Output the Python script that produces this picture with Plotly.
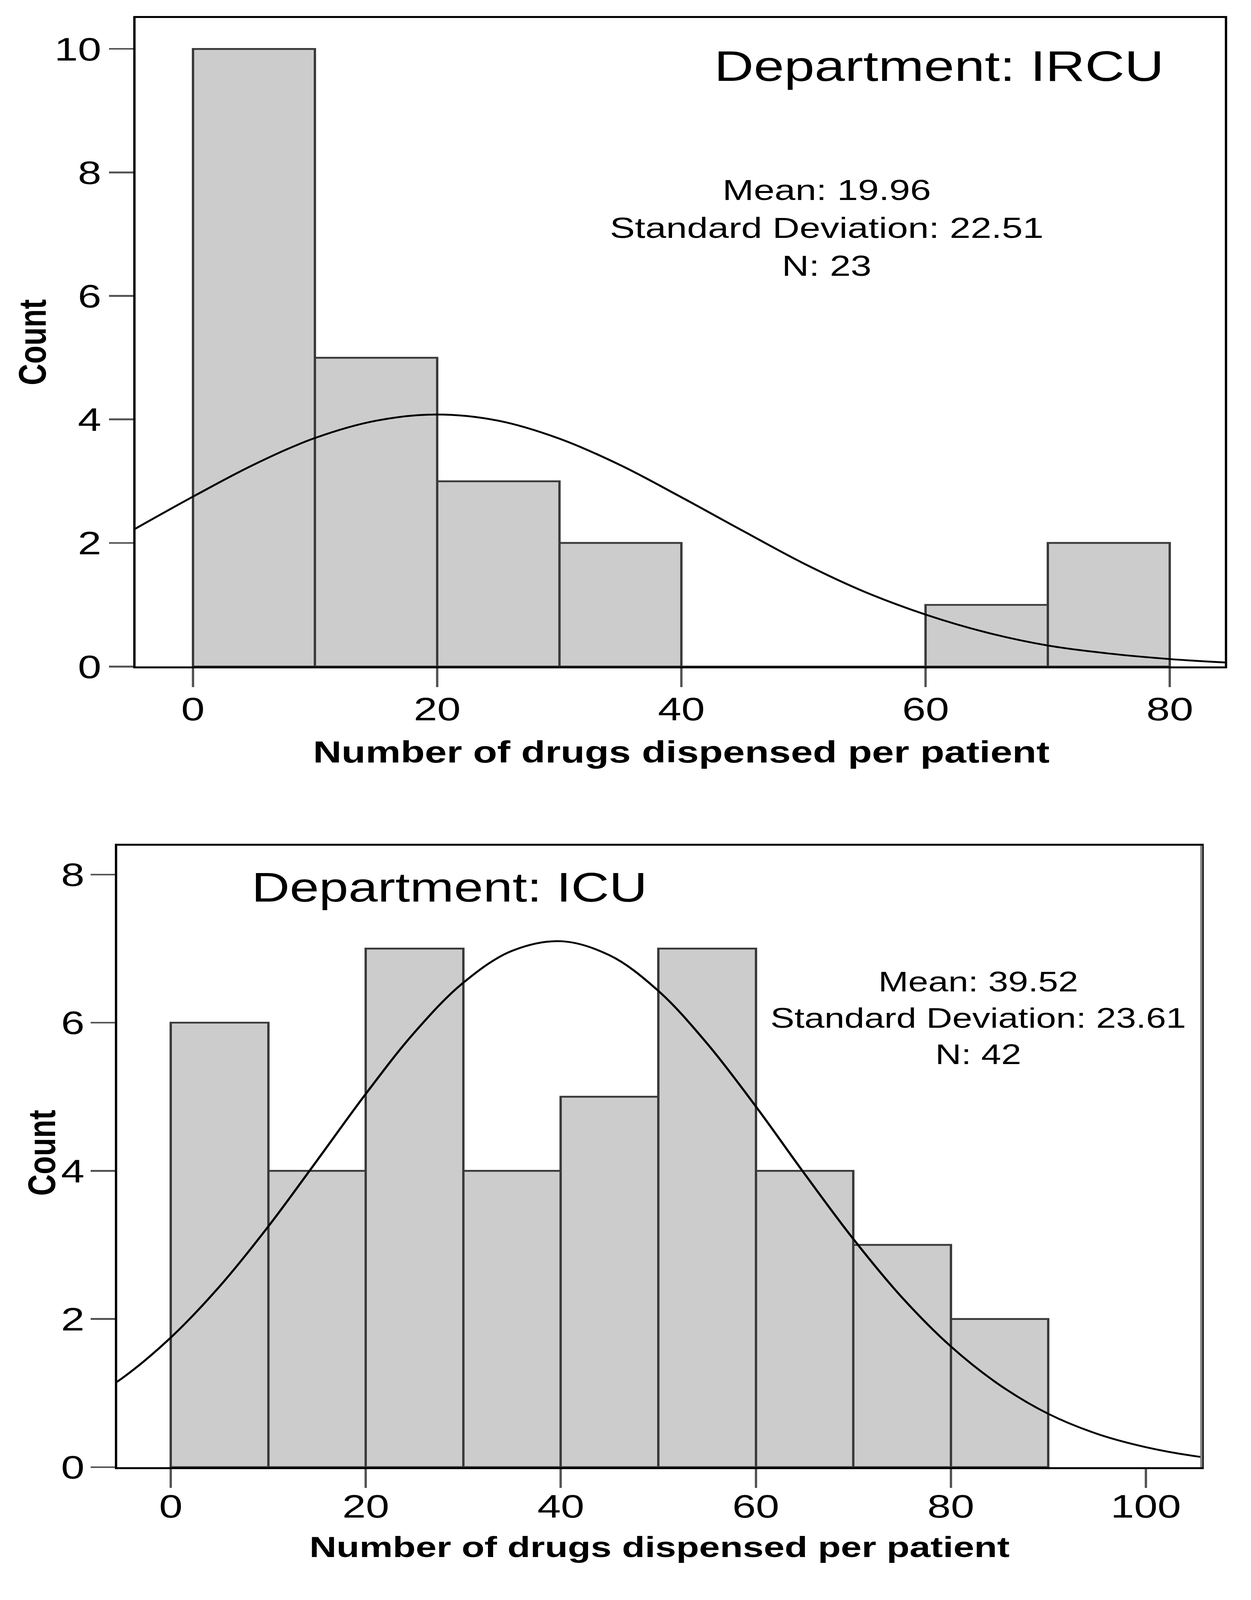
import plotly.graph_objects as go

# ---------------- data ----------------
bin_centers_ircu = [5, 15, 25, 35, 45, 55, 65, 75]
counts_ircu = [10, 5, 3, 2, 0, 0, 1, 2]

bin_centers_icu = [5, 15, 25, 35, 45, 55, 65, 75, 85]
counts_icu = [6, 4, 7, 4, 5, 7, 4, 3, 2]

# normal curve (count scale)
curve_x_ircu = [-5, 0, 5, 10, 15, 20, 25, 30, 35, 40, 45, 50, 55, 60, 65, 70, 75, 80, 85]
curve_y_ircu = [2.20, 2.75, 3.27, 3.70, 3.98, 4.08, 3.98, 3.69, 3.26, 2.74, 2.20, 1.67,
                1.21, 0.84, 0.55, 0.34, 0.21, 0.12, 0.06]

curve_x_icu = [-10, -5, 0, 5, 10, 15, 20, 25, 30, 35, 40, 45, 50, 55, 60, 65, 70, 75, 80,
               85, 90, 95, 100, 105, 110]
curve_y_icu = [0.79, 1.20, 1.75, 2.44, 3.25, 4.14, 5.04, 5.87, 6.54, 6.97, 7.10, 6.91, 6.43,
               5.72, 4.87, 3.96, 3.08, 2.29, 1.63, 1.11, 0.72, 0.45, 0.27, 0.15, 0.08]

stats_ircu = ["Mean: 19.96", "Standard Deviation: 22.51", "N: 23"]
stats_icu = ["Mean: 39.52", "Standard Deviation: 23.61", "N: 42"]

x_ticks_ircu = [0, 20, 40, 60, 80]
y_ticks_ircu = [0, 2, 4, 6, 8, 10]
x_ticks_icu = [0, 20, 40, 60, 80, 100]
y_ticks_icu = [0, 2, 4, 6, 8]

W, H = 3202, 5270
FONT = "Liberation Sans, Arial, sans-serif"

fig = go.Figure()

bar_style = dict(marker=dict(color="#cccccc", line=dict(color="#3a3a3a", width=6)),
                 width=10, showlegend=False, hoverinfo="skip")

fig.add_trace(go.Bar(x=bin_centers_ircu, y=counts_ircu, xaxis="x", yaxis="y", **bar_style))
fig.add_trace(go.Scatter(x=curve_x_ircu, y=curve_y_ircu, mode="lines", xaxis="x", yaxis="y",
                         line=dict(color="black", width=6, shape="spline"), showlegend=False))
fig.add_trace(go.Bar(x=bin_centers_icu, y=counts_icu, xaxis="x2", yaxis="y2", **bar_style))
fig.add_trace(go.Scatter(x=curve_x_icu, y=curve_y_icu, mode="lines", xaxis="x2", yaxis="y2",
                         line=dict(color="black", width=6, shape="spline"), showlegend=False))

axis_common = dict(showline=True, linecolor="black", linewidth=6, mirror=True,
                   ticks="outside", ticklen=62, tickwidth=6, tickcolor="#555555",
                   showgrid=False, zeroline=False,
                   tickfont=dict(family=FONT, size=108, color="black"))

fig.update_layout(
    width=W, height=H, autosize=False,
    margin=dict(l=0, r=0, t=0, b=0),
    paper_bgcolor="white", plot_bgcolor="white",
    bargap=0,
    xaxis=dict(domain=[347 / W, 3135 / W], range=[-4.7, 84.5], tickvals=x_ticks_ircu,
               anchor="y", ticklabelstandoff=-20, **axis_common),
    yaxis=dict(domain=[1 - 2221 / H, 1 - 60 / H], range=[0, 10.5], tickvals=y_ticks_ircu,
               anchor="x", ticklabelstandoff=-2, **axis_common),
    xaxis2=dict(domain=[300 / W, 3075 / W], range=[-5.5, 105.7], tickvals=x_ticks_icu,
                anchor="y2", ticklabelstandoff=-32, **axis_common),
    yaxis2=dict(domain=[1 - 4889 / H, 1 - 2818 / H], range=[0, 8.39], tickvals=y_ticks_icu,
                anchor="x2", ticklabelstandoff=-6, **axis_common),
    shapes=[dict(type="line", xref="x2 domain", yref="y2 domain", x0=1, x1=1, y0=0, y1=1,
                 line=dict(color="#808080", width=6))],
)

ann = []
ann.append(dict(x=61.1, y=9.72, xref="x", yref="y", text="Department: IRCU", showarrow=False,
                font=dict(family=FONT, size=140, color="black"), xanchor="center", yanchor="middle"))
ann.append(dict(x=28.6, y=7.83, xref="x2", yref="y2", text="Department: ICU", showarrow=False,
                font=dict(family=FONT, size=135, color="black"), xanchor="center", yanchor="middle"))
ann.append(dict(x=51.9, y=7.10, xref="x", yref="y", text="<br>".join(stats_ircu), showarrow=False,
                align="center", font=dict(family=FONT, size=96, color="black"),
                xanchor="center", yanchor="middle"))
ann.append(dict(x=82.8, y=6.06, xref="x2", yref="y2", text="<br>".join(stats_icu), showarrow=False,
                align="center", font=dict(family=FONT, size=92, color="black"),
                xanchor="center", yanchor="middle"))
ann.append(dict(x=1744 / W, y=1 - 2505 / H, xref="paper", yref="paper",
                text="<b>Number of drugs dispensed per patient</b>", showarrow=False,
                font=dict(family=FONT, size=101, color="black"), xanchor="center", yanchor="middle"))
ann.append(dict(x=1688 / W, y=1 - 5155 / H, xref="paper", yref="paper",
                text="<b>Number of drugs dispensed per patient</b>", showarrow=False,
                font=dict(family=FONT, size=96, color="black"), xanchor="center", yanchor="middle"))
ann.append(dict(x=83 / W, y=1 - 1141 / H, xref="paper", yref="paper", text="<b>Count</b>",
                showarrow=False, textangle=-90,
                font=dict(family=FONT, size=98, color="black"), xanchor="center", yanchor="middle"))
ann.append(dict(x=107 / W, y=1 - 3842 / H, xref="paper", yref="paper", text="<b>Count</b>",
                showarrow=False, textangle=-90,
                font=dict(family=FONT, size=98, color="black"), xanchor="center", yanchor="middle"))
fig.update_layout(annotations=ann)

# Fit the whole 3202x5270 figure into whatever window actually shows it
fit_js = """
var gd = document.getElementById('{plot_id}');
document.documentElement.style.margin = '0';
document.body.style.margin = '0';
document.documentElement.style.overflow = 'hidden';
document.body.style.overflow = 'hidden';
var sx = Math.min(1, window.innerWidth / %d);
var sy = Math.min(1, window.innerHeight / %d);
gd.style.transformOrigin = '0 0';
gd.style.transform = 'scale(' + sx + ',' + sy + ')';
""" % (W, H)
fig.write_html("out.html", post_script=fit_js, config={"displayModeBar": False})
